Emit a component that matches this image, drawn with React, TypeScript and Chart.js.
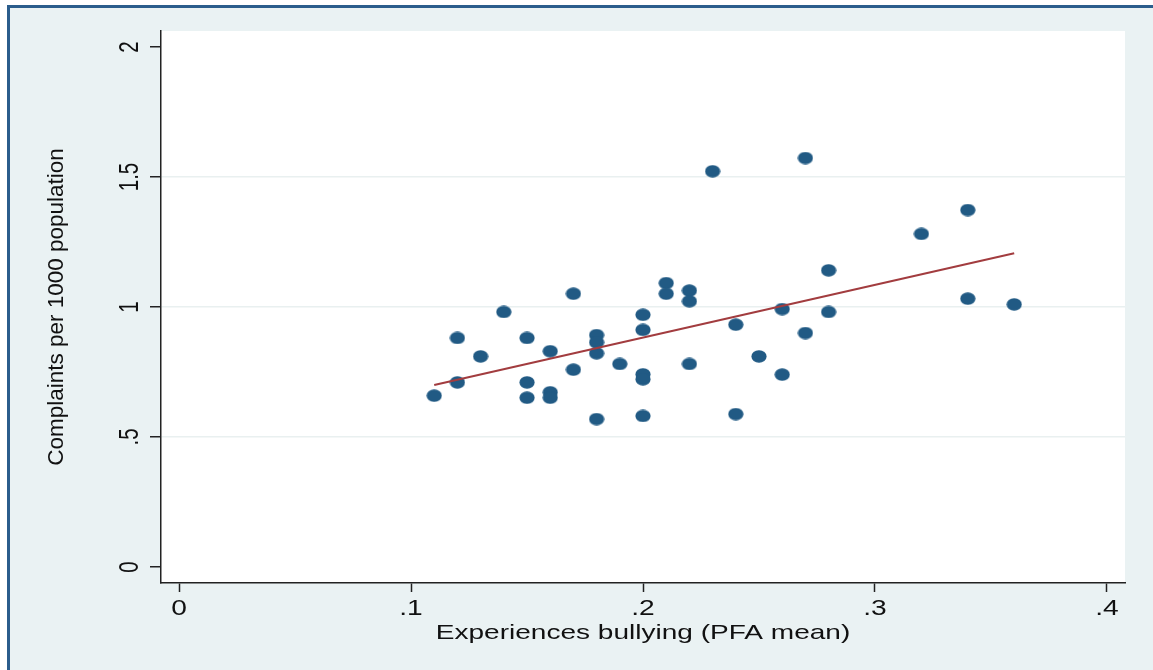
import React, { useEffect, useRef } from 'react';
import { Chart, registerables } from 'chart.js';

Chart.register(...registerables);

// ---- data ----
const X_VALUES = [
  0.11, 0.12, 0.12, 0.13, 0.14, 0.15, 0.15, 0.15, 0.16, 0.16, 0.16, 0.17, 0.17,
  0.18, 0.18, 0.18, 0.18, 0.19, 0.2, 0.2, 0.2, 0.2, 0.2, 0.21, 0.21, 0.22, 0.22,
  0.22, 0.23, 0.24, 0.24, 0.25, 0.26, 0.26, 0.27, 0.27, 0.28, 0.28, 0.32, 0.34,
  0.34, 0.36,
];
const Y_VALUES = [
  0.659, 0.881, 0.71, 0.81, 0.981, 0.881, 0.71, 0.651, 0.83, 0.672, 0.651, 1.051,
  0.759, 0.892, 0.864, 0.822, 0.569, 0.781, 0.97, 0.912, 0.741, 0.722, 0.581,
  1.092, 1.051, 1.063, 1.022, 0.781, 1.522, 0.932, 0.588, 0.81, 0.992, 0.74,
  1.573, 0.9, 1.141, 0.981, 1.281, 1.373, 1.032, 1.01,
];
const FIT_X = [0.11, 0.36];
const FIT_Y = [0.7, 1.207];

const X_TICKS = [0, 0.1, 0.2, 0.3, 0.4];
const X_TICK_LABELS = ['0', '.1', '.2', '.3', '.4'];
const Y_TICKS = [0, 0.5, 1, 1.5, 2];
const Y_TICK_LABELS = ['0', '.5', '1', '1.5', '2'];
const X_TITLE = 'Experiences bullying (PFA mean)';
const Y_TITLE = 'Complaints per 1000 population';

const X_MIN = -0.00776;
const X_MAX = 0.40776;
const Y_MIN = -0.0615;
const Y_MAX = 2.0615;

const MARKER_COLOR = '#215a84';
const FIT_COLOR = '#a23c3f';
const TEXT_COLOR = '#111111';
const FONT = '"Liberation Sans", Arial, Helvetica, sans-serif';

const textPlugin = {
  id: 'stataText',
  beforeDraw(chart: any) {
    const { ctx, chartArea } = chart;
    ctx.save();
    ctx.fillStyle = '#ffffff';
    ctx.fillRect(chartArea.left, chartArea.top, chartArea.right - chartArea.left, chartArea.bottom - chartArea.top);
    ctx.restore();
  },
  afterDraw(chart: any) {
    const { ctx, chartArea } = chart;
    const xs = chart.scales.x;
    const ys = chart.scales.y;
    ctx.save();
    ctx.fillStyle = TEXT_COLOR;
    ctx.textBaseline = 'alphabetic';
    ctx.textAlign = 'center';

    // x tick labels
    ctx.font = `22px ${FONT}`;
    X_TICKS.forEach((v, i) => {
      const px = xs.getPixelForValue(v);
      ctx.save();
      ctx.translate(px, chartArea.bottom + 32);
      ctx.scale(1.28, 1);
      ctx.fillText(X_TICK_LABELS[i], 0, 0);
      ctx.restore();
    });

    // y tick labels (rotated)
    ctx.font = `20.5px ${FONT}`;
    Y_TICKS.forEach((v, i) => {
      const py = ys.getPixelForValue(v);
      ctx.save();
      ctx.translate(chartArea.left - 23, py);
      ctx.scale(1.37, 1);
      ctx.rotate(-Math.PI / 2);
      ctx.fillText(Y_TICK_LABELS[i], 0, 0);
      ctx.restore();
    });

    // x title
    ctx.font = `21px ${FONT}`;
    ctx.save();
    ctx.translate((chartArea.left + chartArea.right) / 2, chartArea.bottom + 56);
    ctx.scale(1.335, 1);
    ctx.fillText(X_TITLE, 0, 0);
    ctx.restore();

    // y title
    ctx.font = `22.5px ${FONT}`;
    ctx.save();
    ctx.translate(63, (chartArea.top + chartArea.bottom) / 2);
    ctx.rotate(-Math.PI / 2);
    ctx.fillText(Y_TITLE, 0, 0);
    ctx.restore();

    ctx.restore();
  },
};

export default function App() {
  const ref = useRef<HTMLCanvasElement>(null);

  useEffect(() => {
    document.body.style.margin = '0';
    const canvas = ref.current;
    if (!canvas) return;

    const marker = document.createElement('canvas');
    marker.width = 16;
    marker.height = 13;
    const mctx = marker.getContext('2d')!;
    mctx.fillStyle = MARKER_COLOR;
    mctx.beginPath();
    mctx.ellipse(8, 6.5, 7.6, 6.2, 0, 0, Math.PI * 2);
    mctx.fill();

    const scatterData = X_VALUES.map((x, i) => ({ x, y: Y_VALUES[i] }));
    const fitData = FIT_X.map((x, i) => ({ x, y: FIT_Y[i] }));

    const chart = new Chart(canvas, {
      type: 'scatter',
      data: {
        datasets: [
          {
            type: 'line',
            label: 'Fitted values',
            data: fitData,
            borderColor: FIT_COLOR,
            borderWidth: 2,
            pointRadius: 0,
            showLine: true,
            fill: false,
            order: 0,
          } as any,
          {
            type: 'scatter',
            label: 'Complaints',
            data: scatterData,
            pointStyle: marker as any,
            pointRadius: 7,
            backgroundColor: MARKER_COLOR,
            borderColor: MARKER_COLOR,
            order: 1,
          } as any,
        ],
      },
      options: {
        responsive: false,
        animation: false,
        devicePixelRatio: 1,
        layout: { padding: { left: 0, top: 31, right: 28, bottom: 0 } },
        plugins: {
          legend: { display: false },
          tooltip: { enabled: false },
        },
        scales: {
          x: {
            type: 'linear',
            min: X_MIN,
            max: X_MAX,
            afterBuildTicks: (s: any) => {
              s.ticks = X_TICKS.map((v) => ({ value: v }));
            },
            afterFit: (s: any) => {
              s.height = 87;
            },
            ticks: { display: false },
            grid: {
              drawOnChartArea: false,
              drawTicks: true,
              tickLength: 9,
              tickColor: '#222222',
              tickWidth: 1.5,
            },
            border: { display: true, color: '#222222', width: 1.5 },
          },
          y: {
            type: 'linear',
            min: Y_MIN,
            max: Y_MAX,
            afterBuildTicks: (s: any) => {
              s.ticks = Y_TICKS.map((v) => ({ value: v }));
            },
            afterFit: (s: any) => {
              s.width = 161;
            },
            ticks: { display: false },
            grid: {
              color: (c: any) =>
                c.tick && (c.tick.value === Y_TICKS[0] || c.tick.value === Y_TICKS[Y_TICKS.length - 1])
                  ? 'rgba(0,0,0,0)'
                  : '#e9f0f0',
              lineWidth: 1.5,
              drawTicks: true,
              tickLength: 11,
              tickColor: '#222222',
              tickWidth: 1.5,
            },
            border: { display: true, color: '#222222', width: 1.5 },
          },
        },
      } as any,
      plugins: [textPlugin],
    });

    return () => chart.destroy();
  }, []);

  return (
    <div
      style={{
        position: 'absolute',
        left: 0,
        top: 0,
        width: 1153,
        height: 670,
        overflow: 'hidden',
        background: '#ffffff',
      }}
    >
      <div
        style={{
          position: 'absolute',
          left: 7,
          top: 5,
          width: 1200,
          height: 720,
          background: '#eaf2f3',
          borderLeft: '3px solid #2b5d8c',
          borderTop: '3px solid #2b5d8c',
        }}
      />
      <canvas
        ref={ref}
        width={1153}
        height={670}
        style={{ position: 'absolute', left: 0, top: 0, width: 1153, height: 670 }}
      />
    </div>
  );
}
